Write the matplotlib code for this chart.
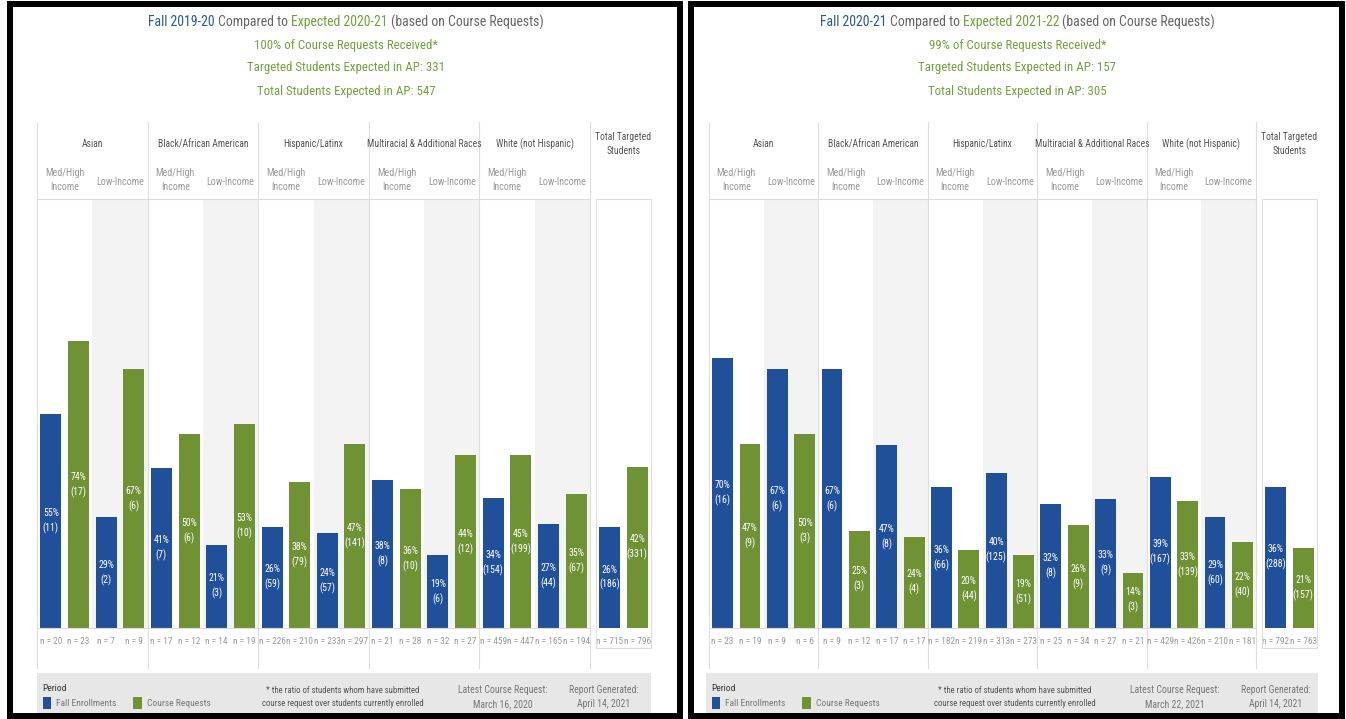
import numpy as np
import matplotlib
matplotlib.use('Agg')
import matplotlib.pyplot as plt
from matplotlib import font_manager
from matplotlib.patches import Rectangle, Patch
from matplotlib.lines import Line2D
from matplotlib.transforms import blended_transform_factory

# --- data ---
groups = ['Asian', 'Black/African American', 'Hispanic/Latinx',
          'Multiracial & Additional Races', 'White (not Hispanic)']

# per group: Med/High then Low-Income
fall19_count = [11, 2, 7, 3, 59, 57, 8, 6, 154, 44]
fall19_n = [20, 7, 17, 14, 226, 233, 21, 32, 459, 165]
req20_count = [17, 6, 6, 10, 79, 141, 10, 12, 199, 67]
req20_n = [23, 9, 12, 19, 210, 297, 28, 27, 447, 194]
total19 = (186, 715)
total20 = (331, 796)

fall20_count = [16, 6, 6, 8, 66, 125, 8, 9, 167, 60]
fall20_n = [23, 9, 9, 17, 182, 313, 25, 27, 429, 210]
req21_count = [9, 3, 3, 4, 44, 51, 9, 3, 139, 40]
req21_n = [19, 6, 12, 17, 219, 273, 34, 21, 426, 181]
total20b = (288, 792)
total21 = (157, 763)

titles = [('Fall 2019-20', 'Expected 2020-21', '100%', '331', '547', 'March 16, 2020'),
          ('Fall 2020-21', 'Expected 2021-22', '99%', '157', '305', 'March 22, 2021')]

BLUE = '#21509a'
GREEN = '#6e9234'
TBLUE = '#2c5797'
TGREEN = '#72a03e'

names = {f.name for f in font_manager.fontManager.ttflist}
FONT = 'DejaVu Sans'
for cand in ['Liberation Sans Narrow', 'Roboto Condensed', 'Open Sans Condensed',
             'DejaVu Sans Condensed', 'Lato', 'Roboto']:
    if cand in names:
        FONT = cand
        break
plt.rcParams['font.family'] = [FONT, 'DejaVu Sans']

W, H = 1346, 719
fig = plt.figure(figsize=(W / 100, H / 100), dpi=100)
renderer = fig.canvas.get_renderer()


def fx(px):
    return px / W


def fy(py):
    return 1 - py / H


def fit(s, target):
    # font size that gives the string about the target width in pixels
    t = fig.text(0, 0, s, fontsize=10)
    w = t.get_window_extent(renderer).width
    t.remove()
    return 10 * target / w


S_TITLE = fit('Fall 2019-20 Compared to Expected 2020-21 (based on Course Requests)', 395)
S_SUB = fit('Targeted Students Expected in AP: 331', 196)
S_HEAD = fit('Black/African American', 90)
S_SUBH = fit('Low-Income', 48)
S_N = fit('n = 226', 27)
S_BAR = fit('(141)', 20.5)
S_LEG = fit('Fall Enrollments', 60)
S_NOTE = fit('course request over students currently enrolled', 162)
S_INFO = fit('Latest Course Request:', 88)


def colored_line(cx, y, parts, size):
    sp = fig.text(0, 0, 'a a', fontsize=size)
    nsp = fig.text(0, 0, 'aa', fontsize=size)
    gap = sp.get_window_extent(renderer).width - nsp.get_window_extent(renderer).width
    sp.remove()
    nsp.remove()
    texts, widths = [], []
    for s, c in parts:
        t = fig.text(0, fy(y), s, color=c, fontsize=size, va='center', ha='left')
        texts.append(t)
        widths.append(t.get_window_extent(renderer).width)
    total = sum(widths) + gap * (len(parts) - 1)
    x = cx - total / 2
    for t, w in zip(texts, widths):
        t.set_x(fx(x))
        x += w + gap


def panel(border, x0, gw, tot_x0, tot_x1, band, info, fall_c, fall_n, req_c, req_n, tot_f, tot_r):
    bx0, bx1 = border
    cx = (bx0 + bx1) / 2 + 1
    fig.add_artist(Rectangle((fx(bx0), fy(716)), fx(bx1 - bx0), fy(3.5) - fy(716),
                             transform=fig.transFigure, fill=False, edgecolor='black', lw=4.3))

    fall_lbl, exp_lbl, pct_rec, targeted, total_exp, latest = info
    colored_line(cx, 22, [(fall_lbl, TBLUE), ('Compared to', '#666666'),
                          (exp_lbl, TGREEN), ('(based on Course Requests)', '#666666')], S_TITLE)
    fig.text(fx(cx), fy(45), pct_rec + ' of Course Requests Received*', color=TGREEN,
             fontsize=S_SUB, ha='center', va='center')
    fig.text(fx(cx), fy(68), 'Targeted Students Expected in AP: ' + targeted, color=TGREEN,
             fontsize=S_SUB, ha='center', va='center')
    fig.text(fx(cx), fy(91), 'Total Students Expected in AP: ' + total_exp, color=TGREEN,
             fontsize=S_SUB, ha='center', va='center')

    top, base = 199, 628
    x1 = x0 + gw * 5
    ax = fig.add_axes([fx(x0), fy(base), fx(x1 - x0), fy(top) - fy(base)])
    ax.set_xlim(0, 20)
    ax.set_ylim(0, 1.105)
    ax.axis('off')

    # shaded Low-Income columns
    for g in range(5):
        ax.axvspan(4 * g + 2, 4 * g + 4, color='#f3f3f3', zorder=0, lw=0)

    slots = np.arange(20)
    counts, ns, colors = [], [], []
    for g in range(5):
        for k in range(2):
            i = 2 * g + k
            counts += [fall_c[i], req_c[i]]
            ns += [fall_n[i], req_n[i]]
            colors += [BLUE, GREEN]
    counts = np.array(counts)
    ns = np.array(ns)
    pct = counts / ns
    ax.bar(slots + 0.5, pct, width=0.76, color=colors, zorder=2)
    for s, p, c in zip(slots, pct, counts):
        ax.text(s + 0.5, p / 2, f'{round(p * 100)}%\n({c})', color='white', fontsize=S_BAR,
                ha='center', va='center', linespacing=1.5, zorder=3)

    bt = blended_transform_factory(ax.transData, fig.transFigure)
    for s, n in zip(slots, ns):
        ax.text(s + 0.5, fy(642), f'n = {n}', transform=bt, ha='center', va='center',
                fontsize=S_N, color='#9a9a9a', clip_on=False)
    # separators and header
    for g in range(6):
        ax.add_line(Line2D([4 * g, 4 * g], [fy(122), fy(668)], transform=bt, color='#dddddd',
                           lw=0.8, clip_on=False))
    ax.add_line(Line2D([0, 20], [fy(top), fy(top)], transform=bt, color='#dddddd', lw=0.8,
                       clip_on=False))
    ax.add_line(Line2D([0, 20], [fy(base), fy(base)], transform=bt, color='#dddddd', lw=0.8,
                       clip_on=False))
    for g, name in enumerate(groups):
        ax.text(4 * g + 2, fy(144), name, transform=bt, ha='center', va='center',
                fontsize=S_HEAD, color='#555555')
        ax.text(4 * g + 1, fy(180), 'Med/High\nIncome', transform=bt, ha='center',
                va='center', fontsize=S_SUBH, color='#999999', linespacing=1.5)
        ax.text(4 * g + 3, fy(182), 'Low-Income', transform=bt, ha='center', va='center',
                fontsize=S_SUBH, color='#999999')

    # total column
    axt = fig.add_axes([fx(tot_x0), fy(base), fx(tot_x1 - tot_x0), fy(top) - fy(base)])
    axt.set_xlim(0, 2)
    axt.set_ylim(0, 1.105)
    axt.axis('off')
    tc = np.array([tot_f[0], tot_r[0]])
    tn = np.array([tot_f[1], tot_r[1]])
    tp = tc / tn
    axt.bar([0.5, 1.5], tp, width=0.78, color=[BLUE, GREEN], zorder=2)
    for s, p, c in zip([0.5, 1.5], tp, tc):
        axt.text(s, p / 2, f'{round(p * 100)}%\n({c})', color='white', fontsize=S_BAR,
                 ha='center', va='center', linespacing=1.5, zorder=3)
    btt = blended_transform_factory(axt.transData, fig.transFigure)
    for s, n in zip([0.5, 1.5], tn):
        axt.text(s, fy(642), f'n = {n}', transform=btt, ha='center', va='center',
                 fontsize=S_N, color='#9a9a9a', clip_on=False)
    fig.add_artist(Rectangle((fx(tot_x0), fy(648)), fx(tot_x1 - tot_x0), fy(top) - fy(648),
                             transform=fig.transFigure, fill=False, edgecolor='#dddddd', lw=0.8))
    fig.text(fx((tot_x0 + tot_x1) / 2), fy(144), 'Total Targeted\nStudents', ha='center',
             va='center', fontsize=S_HEAD, color='#555555', linespacing=1.5)

    # legend band
    lx0, lx1 = band
    fig.add_artist(Rectangle((fx(lx0), fy(713)), fx(lx1 - lx0), fy(673) - fy(713),
                             transform=fig.transFigure, color='#e7e7e7', lw=0))
    handles = [Patch(facecolor=BLUE, label='Fall Enrollments'),
               Patch(facecolor=GREEN, label='Course Requests')]
    leg = fig.legend(handles=handles, loc='upper left', bbox_to_anchor=(fx(lx0), fy(678)),
                     ncol=2, frameon=False, fontsize=S_LEG, title='Period', title_fontsize=S_LEG,
                     alignment='left', handlelength=0.9, handleheight=1.5, handletextpad=0.5,
                     columnspacing=1.8, borderpad=0.1, labelcolor='#777777')
    leg.get_title().set_color('#333333')
    fig.text(fx(x0 + 306), fy(697), '* the ratio of students whom have submitted\n'
             'course request over students currently enrolled', ha='center', va='center',
             fontsize=S_NOTE, color='#555555', linespacing=1.5)
    fig.text(fx(x0 + 466), fy(697), 'Latest Course Request:\n' + latest, ha='center',
             va='center', fontsize=S_INFO, color='#777777', linespacing=1.5)
    fig.text(fx(x0 + 567), fy(697), 'Report Generated:\nApril 14, 2021', ha='center',
             va='center', fontsize=S_INFO, color='#777777', linespacing=1.5)


panel((10, 680), 37, 110.6, 596, 651, (37, 651), titles[0],
      fall19_count, fall19_n, req20_count, req20_n, total19, total20)
panel((691, 1342), 709, 109.4, 1262, 1317, (706, 1318), titles[1],
      fall20_count, fall20_n, req21_count, req21_n, total20b, total21)

fig.savefig('out.png', dpi=100)
